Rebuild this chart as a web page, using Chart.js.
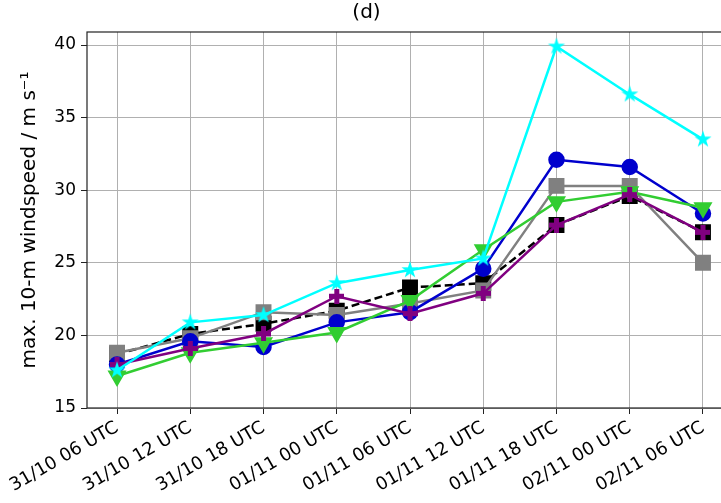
<!DOCTYPE html>
<html>
<head>
<meta charset="utf-8">
<script src="https://cdn.jsdelivr.net/npm/chart.js@4.4.1/dist/chart.umd.min.js"></script>
<style>
  html, body { margin: 0; padding: 0; background: #fff; overflow: hidden; }
  #wrap { width: 745px; height: 503px; }
</style>
</head>
<body>
<div id="wrap"><canvas id="myChart" width="745" height="503"></canvas></div>
<script>
// time steps on the x axis
const categories = [
    '31/10 06 UTC', '31/10 12 UTC', '31/10 18 UTC',
    '01/11 00 UTC', '01/11 06 UTC', '01/11 12 UTC',
    '01/11 18 UTC', '02/11 00 UTC', '02/11 06 UTC'
];

// max. 10-m windspeed per run (m/s)
const blackVals  = [18.7, 20.1, 20.8, 21.7, 23.3, 23.6, 27.6, 29.6, 27.1];
const grayVals   = [18.8, 19.8, 21.6, 21.4, 22.2, 23.1, 30.3, 30.3, 25.0];
const blueVals   = [18.0, 19.6, 19.2, 20.9, 21.6, 24.6, 32.1, 31.6, 28.4];
const greenVals  = [17.2, 18.8, 19.5, 20.2, 22.4, 25.9, 29.2, 29.9, 28.8];
const purpleVals = [18.0, 19.1, 20.1, 22.7, 21.5, 22.9, 27.6, 29.7, 27.1];
const cyanVals   = [17.6, 20.9, 21.4, 23.6, 24.5, 25.3, 39.9, 36.6, 33.5];

const yTicks = [15, 20, 25, 30, 35, 40];

// filled marker images (matplotlib '*' and 'P')
function starImg(color, r) {
    const c = document.createElement('canvas');
    c.width = c.height = 2 * r + 2;
    const g = c.getContext('2d');
    g.translate(r + 1, r + 1);
    g.beginPath();
    for (let i = 0; i < 10; i++) {
        const rad = i % 2 ? r * 0.38 : r;
        const a = -Math.PI / 2 + i * Math.PI / 5;
        g.lineTo(rad * Math.cos(a), rad * Math.sin(a));
    }
    g.closePath();
    g.fillStyle = color;
    g.fill();
    return c;
}
function plusImg(color, s) {
    const c = document.createElement('canvas');
    c.width = c.height = s;
    const g = c.getContext('2d');
    const t = s / 3;
    g.fillStyle = color;
    g.fillRect(t, 0, t, s);
    g.fillRect(0, t, s, t);
    return c;
}

const pts = vals => vals.map((v, i) => ({x: i, y: v}));

// draws the box round the plot area (matplotlib spines)
const frame = {
    id: 'frame',
    afterDraw(chart) {
        const a = chart.chartArea, ctx = chart.ctx;
        ctx.save();
        ctx.strokeStyle = '#222';
        ctx.lineWidth = 1.2;
        ctx.strokeRect(a.left, a.top, a.right - a.left, a.bottom - a.top);
        ctx.restore();
    }
};

let ctx = document.getElementById('myChart').getContext('2d');

// first dataset is drawn on top
let windChart = new Chart(ctx, {
    type: 'line',
    data: {
        datasets: [
            {
                label: 'cyan', data: pts(cyanVals),
                borderColor: '#00ffff', backgroundColor: '#00ffff', borderWidth: 2.5,
                pointStyle: starImg('#00ffff', 9)
            },
            {
                label: 'purple', data: pts(purpleVals),
                borderColor: '#800080', backgroundColor: '#800080', borderWidth: 2.5,
                pointStyle: plusImg('#800080', 15)
            },
            {
                label: 'green', data: pts(greenVals),
                borderColor: '#32cd32', backgroundColor: '#32cd32', borderWidth: 2.5,
                pointStyle: 'triangle', pointRotation: 180, pointRadius: 8.5
            },
            {
                label: 'blue', data: pts(blueVals),
                borderColor: '#0000cd', backgroundColor: '#0000cd', borderWidth: 2.5,
                pointStyle: 'circle', pointRadius: 7
            },
            {
                label: 'gray', data: pts(grayVals),
                borderColor: '#808080', backgroundColor: '#808080', borderWidth: 2.5,
                pointStyle: 'rect', pointRadius: 9.5
            },
            {
                label: 'black', data: pts(blackVals),
                borderColor: '#000', backgroundColor: '#000', borderWidth: 2.5,
                borderDash: [8, 4],
                pointStyle: 'rect', pointRadius: 9.5
            }
        ]
    },
    options: {
        responsive: false,
        animation: false,
        layout: { padding: { left: 0, right: 12, top: 0, bottom: 0 } },
        elements: {
            line: { tension: 0, fill: false },
            point: { borderWidth: 0 }
        },
        plugins: {
            legend: { display: false },
            tooltip: { enabled: false },
            title: {
                display: true,
                text: '(d)',
                color: '#000',
                font: { family: 'DejaVu Sans', size: 20, weight: 'normal' },
                padding: { top: 1, bottom: 7 }
            }
        },
        scales: {
            x: {
                type: 'linear',
                min: -0.41,
                max: 8.41,
                afterFit: s => { s.height = 95; },
                afterBuildTicks: s => { s.ticks = categories.map((c, i) => ({value: i})); },
                ticks: {
                    includeBounds: false,
                    stepSize: 1,
                    minRotation: 30,
                    maxRotation: 30,
                    autoSkip: false,
                    color: '#000',
                    padding: 3,
                    font: { family: 'DejaVu Sans', size: 18 },
                    callback: v => categories[v]
                },
                grid: { color: '#b0b0b0', lineWidth: 1, tickLength: 6, tickColor: '#222' },
                border: { display: false }
            },
            y: {
                min: 15,
                max: 40.9,
                afterFit: s => { s.width = 87; },
                afterBuildTicks: s => { s.ticks = yTicks.map(v => ({value: v})); },
                ticks: {
                    color: '#000',
                    padding: 5,
                    font: { family: 'DejaVu Sans', size: 17 }
                },
                grid: { color: '#b0b0b0', lineWidth: 1, tickLength: 6, tickColor: '#222' },
                border: { display: false },
                title: {
                    display: true,
                    text: 'max. 10-m windspeed / m s\u207B\u00B9',
                    color: '#000',
                    font: { family: 'DejaVu Sans', size: 20 },
                    padding: { top: 18, bottom: 0 }
                }
            }
        }
    },
    plugins: [frame]
});
</script>
</body>
</html>
